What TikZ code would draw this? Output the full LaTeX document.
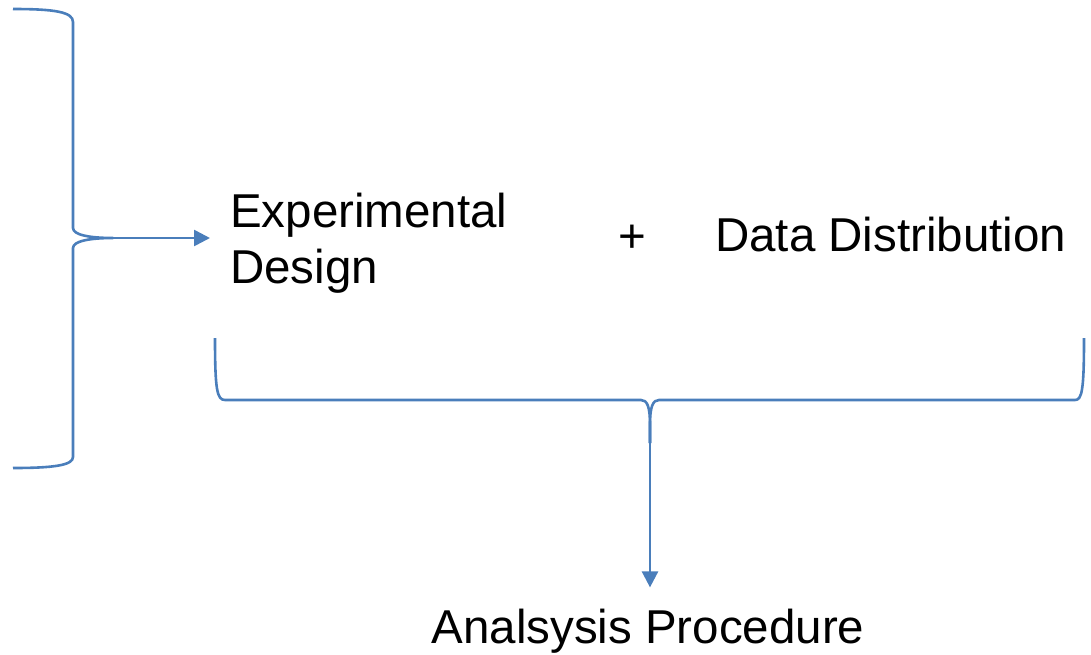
\documentclass[tikz,border=0pt]{standalone}
\usepackage{fontspec}
\setmainfont{Liberation Sans}
\usetikzlibrary{arrows.meta}
\definecolor{linkblue}{RGB}{74,126,187}
\tikzset{
  label text/.style={font=\fontsize{47.5}{56}\selectfont, inner sep=0pt, text=black},
  brace line/.style={draw=linkblue, line width=2.6pt, line join=round},
  flow arrow/.style={draw=linkblue, line width=2.6pt,
    -{Triangle[length=16pt,width=16pt]}}
}
\begin{document}
\begin{tikzpicture}[x=1pt,y=-1pt]
  \useasboundingbox (0,0) rectangle (1091,654);

  % text blocks (base of a two-line node is the last line)
  \node[label text, anchor=base west, align=left] (exp) at (230,283)
    {Experimental\\Design};
  \node[label text, anchor=base] (plus) at (632,252) {+};
  \node[label text, anchor=base west] (dist) at (715,251) {Data Distribution};
  \node[label text, anchor=base] (ana) at (648,643) {Analsysis Procedure};

  % tips of the two braces
  \coordinate (ltip) at (113,238);
  \coordinate (btip) at (650,443);

  % left brace, opening to the left
  \path[brace line] (13,9) .. controls (55,9) and (73,12) .. (73,22)
    -- (73,228) .. controls (73,235) and (90,238) .. (ltip)
    .. controls (90,238) and (73,241) .. (73,248)
    -- (73,457) .. controls (73,465) and (55,468) .. (13,468);

  % bottom brace under both terms
  \path[brace line] (215,338) .. controls (215,390) and (217,400) .. (225,400)
    -- (641,400) .. controls (647,400) and (650,406) .. (650,425) -- (btip);
  \path[brace line] (btip) -- (650,425) .. controls (650,406) and (653,400) .. (659,400)
    -- (1075,400) .. controls (1082,400) and (1084,390) .. (1084,338);

  % connectors
  \draw[flow arrow, shorten >=20pt] (ltip) -- (ltip -| exp.west);
  \draw[flow arrow, shorten >=21pt] (btip) -- (btip |- ana.north);
\end{tikzpicture}
\end{document}
